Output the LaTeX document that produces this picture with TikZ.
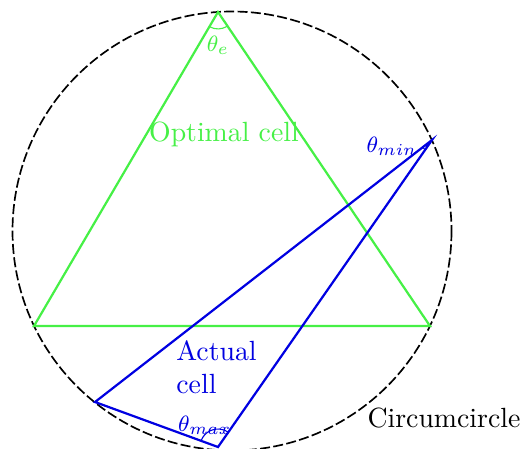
\documentclass[tikz,border=0pt]{standalone}
\usepackage{amsmath}
\usepackage{amssymb}
\usetikzlibrary{angles}

\definecolor{cellgreen}{RGB}{70,240,70}
\definecolor{cellblue}{RGB}{0,0,225}

\begin{document}
\begin{tikzpicture}[x=0.36pt, y=-0.36pt, line width=0.8pt]
    \useasboundingbox (0,0) rectangle (526,448);

    % Circumcircle
    \coordinate (o) at (232,231);
    \draw[line width=0.6pt, dash pattern=on 3.6pt off 1.2pt] (o) circle [radius=219.5];
    \node (circlabel) at (444,418) {Circumcircle};

    % Optimal cell (green triangle)
    \coordinate (ga) at (218,12);
    \coordinate (gl) at (34,326);
    \coordinate (gr) at (430,326);
    \draw[cellgreen] (ga) -- (gl) -- (gr) -- cycle;
    \pic[draw=cellgreen, line width=0.4pt, angle radius=6.1pt] {angle = gl--ga--gr};
    \node[cellgreen, font=\footnotesize] (thetae) at (218,45) {$\theta_e$};
    \node[cellgreen] (optlabel) at (224,134) {Optimal cell};

    % Actual cell (blue triangle)
    \coordinate (ba) at (432,140);
    \coordinate (bb) at (95,402);
    \coordinate (bc) at (218,447);
    \draw[cellblue] (ba) -- (bb) -- (bc) -- cycle;
    \pic[draw=cellblue, line width=0.4pt, angle radius=4.3pt] {angle = bb--ba--bc};
    \pic[draw=cellblue, line width=0.4pt, angle radius=6.5pt] {angle = ba--bc--bb};
    \node[cellblue, font=\footnotesize] (thetamin) at (392,146) {$\theta_{min}$};
    \node[cellblue, font=\footnotesize] (thetamax) at (205,425) {$\theta_{max}$};
    \node[cellblue, align=left, anchor=north west] (actlabel) at (166,330) {Actual\\cell};

\end{tikzpicture}
\end{document}
